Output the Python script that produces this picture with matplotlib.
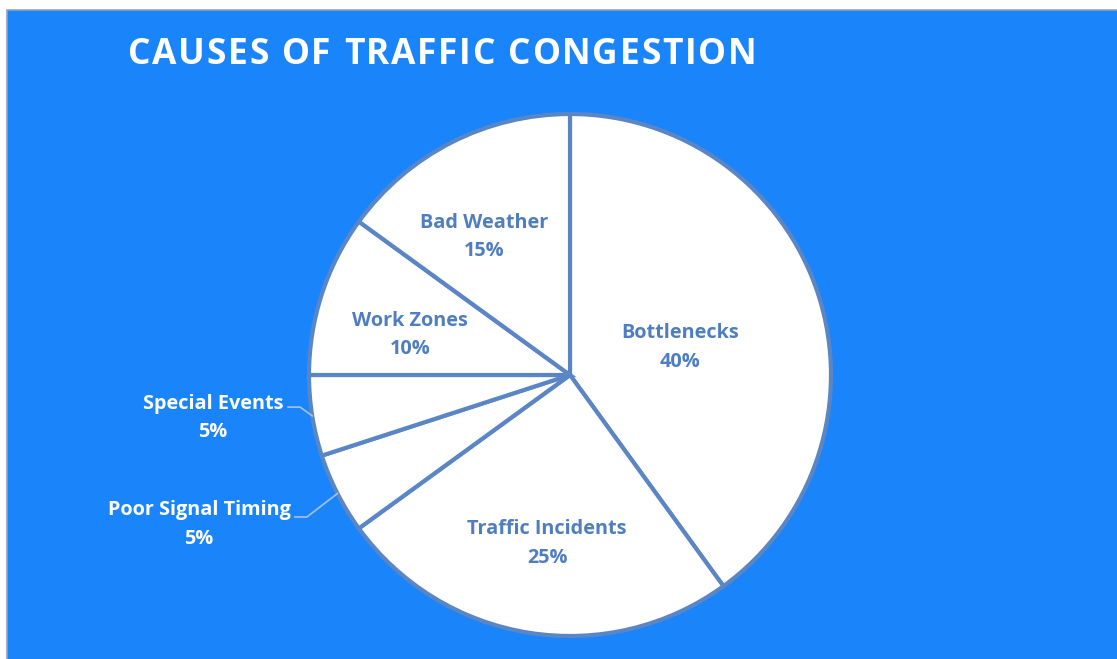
import matplotlib.pyplot as plt
import numpy as np
from matplotlib.patches import Rectangle

causes = ['Bottlenecks', 'Traffic Incidents', 'Poor Signal Timing',
          'Special Events', 'Work Zones', 'Bad Weather']
shares = [40, 25, 5, 5, 10, 15]
title = 'CAUSES OF TRAFFIC CONGESTION'

bg = '#1A84FB'
edge = '#5A86C5'
lab = '#4F7EC0'
font = 'Open Sans'

W, H = 1117, 659
fig = plt.figure(figsize=(W / 100, H / 100), dpi=100)
fig.patch.set_facecolor('white')

# background panel
bgax = fig.add_axes([0, 0, 1, 1], zorder=0)
bgax.set_xlim(0, W)
bgax.set_ylim(H, 0)
bgax.axis('off')
bgax.add_patch(Rectangle((7, 10), W, H, facecolor=bg, edgecolor='#8FA3BF', lw=1.2))

# pie: center (570, 375) px, radius 261 px
r = 261
cx, cy = 570, H - 375
ax = fig.add_axes([(cx - r) / W, (cy - r) / H, 2 * r / W, 2 * r / H], zorder=1)
ax.set_facecolor('none')
wedges, _ = ax.pie(shares, startangle=90, counterclock=False, colors=['white'] * 6,
                   wedgeprops=dict(edgecolor=edge, linewidth=3))
ax.set_xlim(-1, 1)
ax.set_ylim(-1, 1)
ax.set_aspect('equal')

# label centres (pie radius units)
label_pos = {
    'Bottlenecks': (0.421, 0.105),
    'Traffic Incidents': (-0.088, -0.646),
    'Work Zones': (-0.613, 0.153),
    'Bad Weather': (-0.330, 0.529),
    'Special Events': (-1.368, -0.165),
    'Poor Signal Timing': (-1.421, -0.573),
}
# leader lines: start x, elbow x, y
leaders = {
    'Special Events': (-1.080, -1.034, -0.123),
    'Poor Signal Timing': (-1.054, -1.008, -0.544),
}

for w, name, s in zip(wedges, causes, shares):
    mid = np.deg2rad((w.theta1 + w.theta2) / 2)
    tx, ty = label_pos[name]
    outside = name in leaders
    ax.text(tx, ty, f'{name}\n{s}%', ha='center', va='center',
            color='white' if outside else lab, fontsize=14.3, fontweight='bold',
            family=font, linespacing=1.55)
    if outside:
        x0, x1, ly = leaders[name]
        ax.plot([x0, x1, np.cos(mid)], [ly, ly, np.sin(mid)], color='#A9C0DE', lw=1.2,
                clip_on=False)

# title with letter tracking
fig.canvas.draw()
rend = fig.canvas.get_renderer()
glyphs = []
for ch in title:
    t = bgax.text(0, 55, ch, color='white', fontsize=25.5, fontweight='bold', family=font,
                  va='center', ha='left')
    glyphs.append((t, 10 if ch == ' ' else t.get_window_extent(rend).width))
track = (628 - sum(g[1] for g in glyphs)) / (len(glyphs) - 1)
x = 128
for t, adv in glyphs:
    t.set_x(x)
    x += adv + track

fig.savefig('out.png', dpi=100, facecolor=fig.get_facecolor())
